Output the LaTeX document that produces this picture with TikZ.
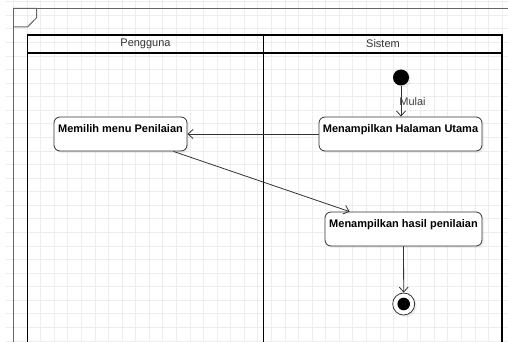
\documentclass[tikz,border=0pt]{standalone}
\usepackage{fontspec}
\setmainfont{Liberation Sans}
\usetikzlibrary{arrows.meta,shadows}
\definecolor{gridc}{HTML}{EDEDED}
\definecolor{edge}{HTML}{333333}
\tikzset{
  gridline/.style={draw=gridc, line width=0.8pt},
  framel/.style={draw=black!60, line width=1pt},
  lanel/.style={draw=black, line width=1.6pt},
  actbox/.style={draw=edge, fill=white, rounded corners=6pt, line width=0.8pt,
    font=\fontsize{11}{13}\selectfont\bfseries, text height=12pt, text depth=16pt,
    inner ysep=3pt, inner xsep=2pt, minimum height=34pt,
    drop shadow={shadow xshift=2pt, shadow yshift=-2pt, opacity=0.12}},
  lanehead/.style={font=\fontsize{11}{13}\selectfont, text=black!80},
  flow/.style={draw=edge, line width=0.8pt, -{Straight Barb[length=5pt,width=9pt]}},
  startnode/.style={circle, fill=black, minimum size=16pt, inner sep=0pt,
    drop shadow={shadow xshift=2pt, shadow yshift=-2pt, opacity=0.12}},
  endnode/.style={circle, draw=edge, fill=white, line width=0.8pt, minimum size=22pt, inner sep=0pt,
    drop shadow={shadow xshift=2pt, shadow yshift=-2pt, opacity=0.12}},
  flowlabel/.style={font=\fontsize{11}{13}\selectfont, text=black!75, inner sep=0pt}
}
\begin{document}
\begin{tikzpicture}[x=1pt,y=-1pt]
\useasboundingbox (0,0) rectangle (508,342);
\fill[white] (0,0) rectangle (508,342);
% grid
\foreach \i in {1,...,37} \draw[gridline] (\i*13.57,0) -- (\i*13.57,342);
\foreach \j in {0,...,25} \draw[gridline] (6,1.7+\j*13.57) -- (508,1.7+\j*13.57);
% outer frame with tab
\draw[framel] (13,346) -- (13,8.3) -- (510,8.3);
\draw[framel] (13,8.3) -- (36.7,8.3) -- (36.7,17.5) -- (27.5,27) -- (13,27);
% swimlanes
\draw[lanel] (27.3,346) -- (27.3,35) -- (502,35) -- (502,346);
\draw[lanel] (263.5,35) -- (263.5,346);
\draw[draw=black, line width=1.3pt] (27.3,53) -- (502,53);
\node[lanehead] (h1) at (145.5,44) {Pengguna};
\node[lanehead] (h2) at (383,44) {Sistem};
% nodes
\node[startnode] (start) at (401,77.5) {};
\node[actbox, minimum width=163pt] (b1) at (400.5,134) {Menampilkan Halaman Utama};
\node[actbox, minimum width=133pt] (b2) at (120.5,134) {Memilih menu Penilaian};
\node[actbox, minimum width=157pt] (b3) at (403.5,229) {Menampilkan hasil penilaian};
\node[endnode] (end) at (403.7,304) {};
\fill[black] (end.center) circle (6.3pt);
% connectors
\draw[flow] (start.south) -- (start.south |- b1.north)
  node[flowlabel, pos=0.5, anchor=west, xshift=-2pt] (lbl) {Mulai};
\draw[flow] (b1.west) -- (b2.east);
\draw[flow] ([xshift=-14pt]b2.south east) -- ([xshift=25pt]b3.north west);
\draw[flow] (b3.south) -- (end.north);
\end{tikzpicture}
\end{document}
